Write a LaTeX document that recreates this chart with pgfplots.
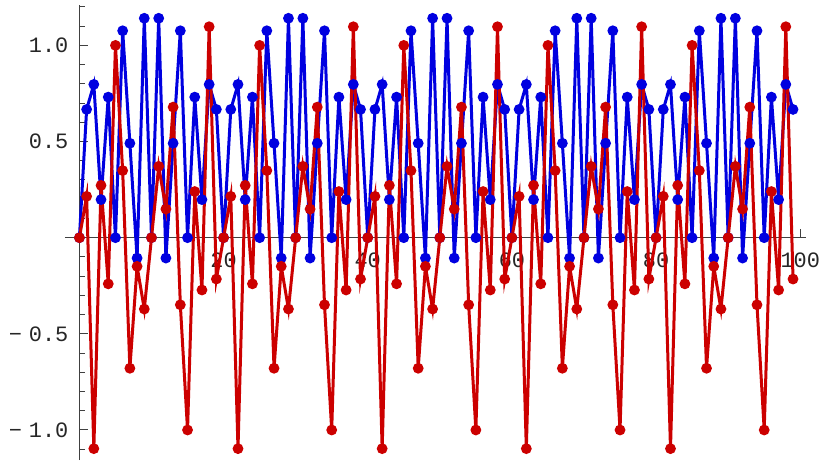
\documentclass[border=0pt]{standalone}
\usepackage{pgfplots}
\pgfplotsset{compat=1.18}
\usepackage{pgfplotstable}
\usepackage{fontspec}
\setmainfont{Liberation Mono}
\definecolor{mblue}{rgb}{0.0,0.0,0.88}
\definecolor{mred}{rgb}{0.80,0.0,0.0}
\pgfplotstableread{
x b r
0 0 0
1 0.667 0.215
2 0.797 -1.097
3 0.198 0.272
4 0.731 -0.24
5 0 1.0
6 1.076 0.349
7 0.491 -0.679
8 -0.106 -0.149
9 1.141 -0.371
10 0 0
11 1.141 0.371
12 -0.106 0.149
13 0.491 0.679
14 1.076 -0.349
15 0 -1.0
16 0.731 0.24
17 0.198 -0.272
18 0.797 1.097
19 0.667 -0.215
20 0 0
21 0.667 0.215
22 0.797 -1.097
23 0.198 0.272
24 0.731 -0.24
25 0 1.0
26 1.076 0.349
27 0.491 -0.679
28 -0.106 -0.149
29 1.141 -0.371
30 0 0
31 1.141 0.371
32 -0.106 0.149
33 0.491 0.679
34 1.076 -0.349
35 0 -1.0
36 0.731 0.24
37 0.198 -0.272
38 0.797 1.097
39 0.667 -0.215
40 0 0
41 0.667 0.215
42 0.797 -1.097
43 0.198 0.272
44 0.731 -0.24
45 0 1.0
46 1.076 0.349
47 0.491 -0.679
48 -0.106 -0.149
49 1.141 -0.371
50 0 0
51 1.141 0.371
52 -0.106 0.149
53 0.491 0.679
54 1.076 -0.349
55 0 -1.0
56 0.731 0.24
57 0.198 -0.272
58 0.797 1.097
59 0.667 -0.215
60 0 0
61 0.667 0.215
62 0.797 -1.097
63 0.198 0.272
64 0.731 -0.24
65 0 1.0
66 1.076 0.349
67 0.491 -0.679
68 -0.106 -0.149
69 1.141 -0.371
70 0 0
71 1.141 0.371
72 -0.106 0.149
73 0.491 0.679
74 1.076 -0.349
75 0 -1.0
76 0.731 0.24
77 0.198 -0.272
78 0.797 1.097
79 0.667 -0.215
80 0 0
81 0.667 0.215
82 0.797 -1.097
83 0.198 0.272
84 0.731 -0.24
85 0 1.0
86 1.076 0.349
87 0.491 -0.679
88 -0.106 -0.149
89 1.141 -0.371
90 0 0
91 1.141 0.371
92 -0.106 0.149
93 0.491 0.679
94 1.076 -0.349
95 0 -1.0
96 0.731 0.24
97 0.198 -0.272
98 0.797 1.097
99 0.667 -0.215
}\datatable
\begin{document}
\begin{tikzpicture}
\useasboundingbox (0,0) rectangle (411bp,230.5bp);
\begin{axis}[
  at={(32.5bp,0.5bp)}, anchor=south west,
  scale only axis,
  width=370.5bp, height=227.5bp,
  xmin=-2, xmax=100.8,
  ymin=-1.156, ymax=1.21,
  axis lines=middle,
  axis line style={black!75, line width=0.6bp, -},
  tick style={black!75, line width=0.5bp},
  tick align=inside,
  major tick length=4.2bp,
  minor tick length=3bp,
  xtick={20,40,60,80,100},
  xticklabels={20,40,60,80,100},
  ytick={-1,-0.5,0.5,1},
  yticklabels={−\hspace{3.5bp}1.0,−\hspace{3.5bp}0.5,0.5,1.0},
  minor ytick={-1.1,-0.9,-0.8,-0.7,-0.6,-0.4,-0.3,-0.2,-0.1,0.1,0.2,0.3,0.4,0.6,0.7,0.8,0.9,1.1,1.2},
  ticklabel style={font=\fontsize{11}{12}\selectfont, text=black!85},
  xticklabel style={anchor=north, yshift=-4bp},
  yticklabel style={anchor=east, xshift=-2bp},
  clip=false,
]
\addplot[mblue, line width=1.5bp, mark=*, mark size=1.9bp, mark options={solid}] table[x=x,y=b]{\datatable};
\addplot[mred, line width=1.5bp, mark=*, mark size=1.9bp, mark options={solid}] table[x=x,y=r]{\datatable};
\end{axis}
\end{tikzpicture}
\end{document}
